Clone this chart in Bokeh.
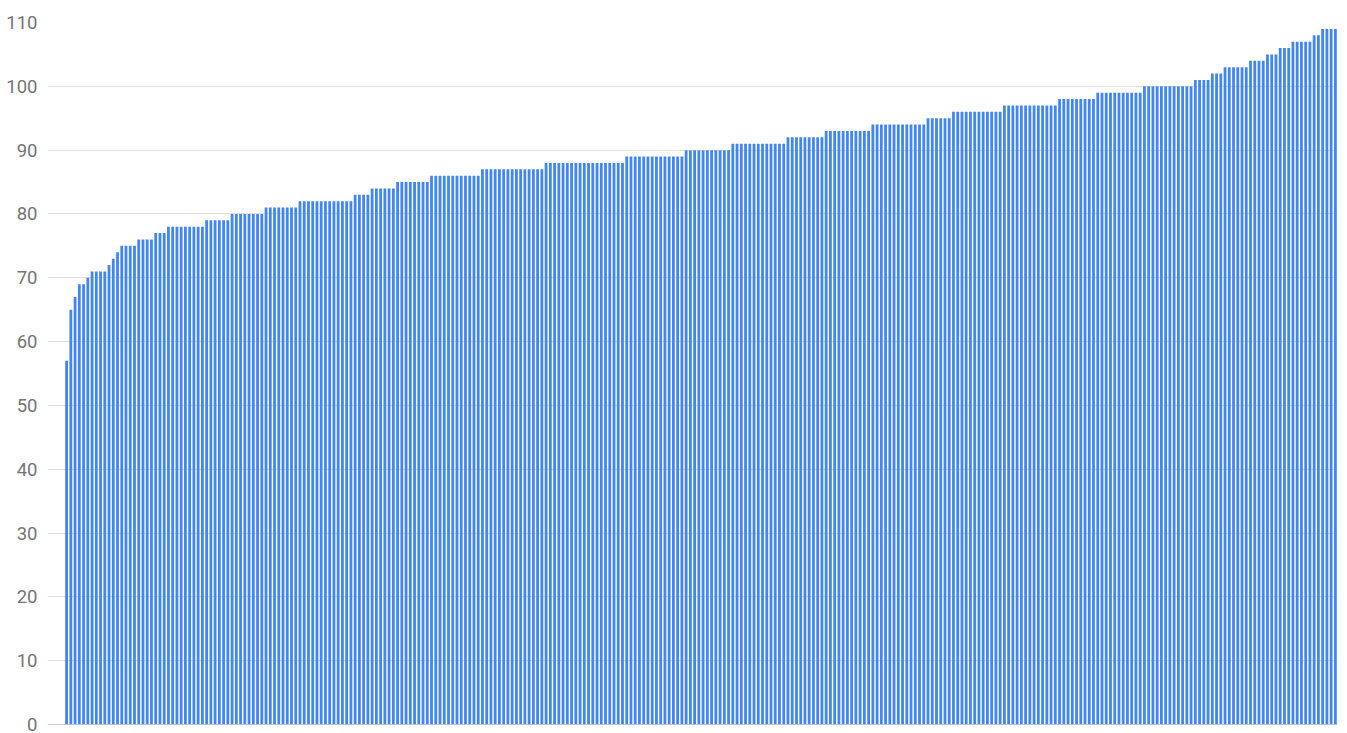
from bokeh.embed import file_html
from bokeh.models import FixedTicker, Range1d, Span
from bokeh.plotting import figure
from bokeh.resources import INLINE

# sorted scores, one bar each (first four are zero)
scores = [
    0, 0, 0, 0,
    57, 65, 67, 69, 69, 70, 71, 71, 71, 71, 72, 73, 74,
    75, 75, 75, 75, 76, 76, 76, 76, 77, 77, 77,
    78, 78, 78, 78, 78, 78, 78, 78, 78,
    79, 79, 79, 79, 79, 79,
    80, 80, 80, 80, 80, 80, 80, 80,
    81, 81, 81, 81, 81, 81, 81, 81,
    82, 82, 82, 82, 82, 82, 82, 82, 82, 82, 82, 82, 82,
    83, 83, 83, 83,
    84, 84, 84, 84, 84, 84,
    85, 85, 85, 85, 85, 85, 85, 85,
    86, 86, 86, 86, 86, 86, 86, 86, 86, 86, 86, 86,
    87, 87, 87, 87, 87, 87, 87, 87, 87, 87, 87, 87, 87, 87, 87,
    88, 88, 88, 88, 88, 88, 88, 88, 88, 88, 88, 88, 88, 88, 88, 88, 88, 88, 88,
    89, 89, 89, 89, 89, 89, 89, 89, 89, 89, 89, 89, 89, 89,
    90, 90, 90, 90, 90, 90, 90, 90, 90, 90, 90,
    91, 91, 91, 91, 91, 91, 91, 91, 91, 91, 91, 91, 91,
    92, 92, 92, 92, 92, 92, 92, 92, 92,
    93, 93, 93, 93, 93, 93, 93, 93, 93, 93, 93,
    94, 94, 94, 94, 94, 94, 94, 94, 94, 94, 94, 94, 94,
    95, 95, 95, 95, 95, 95,
    96, 96, 96, 96, 96, 96, 96, 96, 96, 96, 96, 96,
    97, 97, 97, 97, 97, 97, 97, 97, 97, 97, 97, 97, 97,
    98, 98, 98, 98, 98, 98, 98, 98, 98,
    99, 99, 99, 99, 99, 99, 99, 99, 99, 99, 99,
    100, 100, 100, 100, 100, 100, 100, 100, 100, 100, 100, 100,
    101, 101, 101, 101,
    102, 102, 102,
    103, 103, 103, 103, 103, 103,
    104, 104, 104, 104,
    105, 105, 105,
    106, 106, 106,
    107, 107, 107, 107, 107,
    108, 108,
    109, 109, 109, 109,
]
positions = list(range(len(scores)))
y_ticks = [0, 10, 20, 30, 40, 50, 60, 70, 80, 90, 100, 110]

p = figure(
    width=1347,
    height=733,
    output_backend="svg",
    toolbar_location=None,
    x_range=Range1d(-0.5, len(scores) - 0.5),
    y_range=Range1d(0, 110),
    min_border_left=47,
    min_border_right=10,
    min_border_top=22,
    min_border_bottom=9,
)

p.vbar(x=positions, top=scores, width=0.66, fill_color="#4285f4", line_color=None)

p.xaxis.visible = False
p.xgrid.grid_line_color = None
p.ygrid.grid_line_color = "#e0e0e0"
p.ygrid.ticker = FixedTicker(ticks=y_ticks)
p.yaxis.ticker = FixedTicker(ticks=y_ticks)
p.yaxis.axis_line_color = None
p.yaxis.major_tick_line_color = None
p.yaxis.minor_tick_line_color = None
p.yaxis.major_tick_out = 0
p.yaxis.major_label_standoff = 10
p.yaxis.major_label_text_font = "Roboto"
p.yaxis.major_label_text_font_size = "18.5px"
p.yaxis.major_label_text_color = "#757575"
p.outline_line_color = None

p.add_layout(Span(location=0, dimension="width", line_color="#9e9e9e", line_width=1))

open("out.html", "w").write(file_html(p, INLINE))
